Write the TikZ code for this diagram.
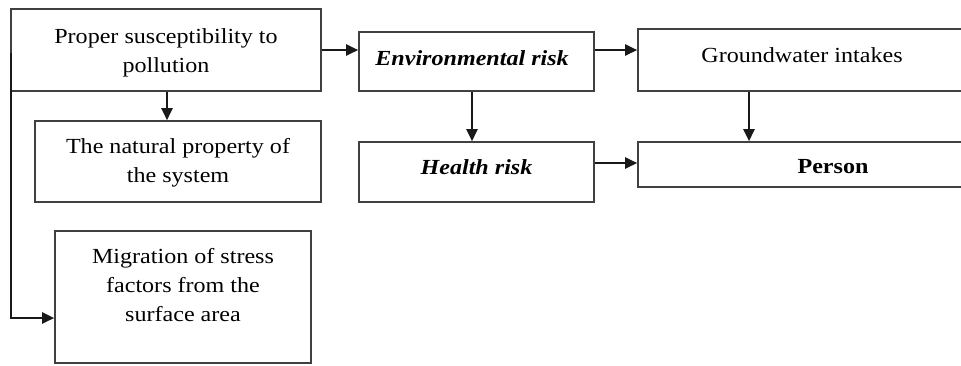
\documentclass[tikz,border=0pt]{standalone}
\usepackage{fontspec}
\setmainfont{Liberation Serif}[FakeStretch=1.12]
\usetikzlibrary{arrows.meta}
\begin{document}
\begin{tikzpicture}[x=1pt,y=-1pt,
  box/.style={draw=black!75,line width=1.6pt,inner sep=0pt},
  txt/.style={inner sep=0pt,align=center,font=\fontsize{21.5}{29}\selectfont},
  arr/.style={draw=black!90,line width=2.4pt,-{Triangle[length=12pt,width=11pt]}}]
\useasboundingbox (0,0) rectangle (961,365);
\begin{scope}
\clip (0,0) rectangle (961,365);
\node[box,minimum width=310,minimum height=82] (b1) at (166,50) {};
\node[box,minimum width=286,minimum height=81] (b2) at (178,161.5) {};
\node[box,minimum width=256,minimum height=132] (b3) at (183,297) {};
\node[box,minimum width=235,minimum height=59] (env) at (476.5,61.5) {};
\node[box,minimum width=328,minimum height=62] (gw) at (802,60) {};
\node[box,minimum width=235,minimum height=60] (hr) at (476.5,172) {};
\node[box,minimum width=328,minimum height=45] (per) at (802,164.5) {};
\end{scope}
\node[txt] (t1) at ([yshift=-2.5]b1.center) {Proper susceptibility to\\pollution};
\node[txt] (t2) at ([yshift=-1.5]b2.center) {The natural property of\\the system};
\node[txt] (t3) at ([yshift=12]b3.center) {Migration of stress\\factors from the\\surface area};
\node[txt,anchor=west,font=\fontsize{21.5}{29}\selectfont\bfseries\itshape] (tenv) at ([xshift=17,yshift=3]env.west) {Environmental risk};
\node[txt] (tgw) at ([yshift=5]gw.center) {Groundwater intakes};
\node[txt,font=\fontsize{21.5}{29}\selectfont\bfseries\itshape] (thr) at ([yshift=5]hr.center) {Health risk};
\node[txt,font=\fontsize{21.5}{29}\selectfont\bfseries] (tper) at ([xshift=31,yshift=-2]per.center) {Person};
\coordinate (m) at (12,318);
\draw[arr] (b1.east) -- (env.west |- b1.east);
\draw[arr] (b1.south -| 167,0) -- (b2.north -| 167,0);
\draw[arr] (b1.west) ++(1,3) |- (b3.west |- m);
\draw[arr] (env.east |- b1.east) -- (gw.west |- b1.east);
\draw[arr] (env.south -| 472,0) -- (hr.north -| 472,0);
\draw[arr] (gw.south -| 749,0) -- (per.north -| 749,0);
\draw[arr] (hr.east |- 0,163) -- (per.west |- 0,163);
\end{tikzpicture}
\end{document}
